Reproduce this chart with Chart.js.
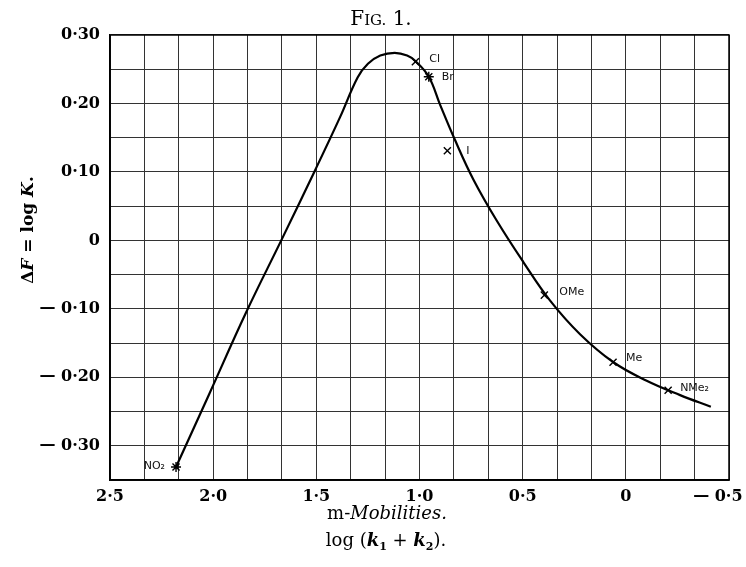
<!DOCTYPE html>
<html>
<head>
<meta charset="utf-8">
<script src="https://cdn.jsdelivr.net/npm/chart.js@4"></script>
<style>body{margin:0;background:#fff}canvas{display:block}</style>
</head>
<body>
<canvas id="fig" width="746" height="567"></canvas>
<script>
// curve, left to right (the x axis runs backwards)
const curveX = [2.18, 2.02, 1.84, 1.67, 1.51, 1.385, 1.30, 1.25, 1.19, 1.12, 1.06, 1.02, 0.955, 0.90, 0.83, 0.739, 0.626, 0.496, 0.367, 0.222, 0.060, -0.101, -0.263, -0.412];
const curveY = [-0.331, -0.225, -0.105, 0.0, 0.10, 0.180, 0.238, 0.258, 0.270, 0.274, 0.270, 0.262, 0.239, 0.198, 0.148, 0.089, 0.029, -0.032, -0.088, -0.137, -0.178, -0.205, -0.226, -0.243];

// the marked substituents
const markNames = ['NO₂', 'Cl', 'Br', 'I', 'OMe', 'Me', 'NMe₂'];
const markX = [2.18, 1.02, 0.955, 0.865, 0.395, 0.062, -0.205];
const markY = [-0.331, 0.261, 0.239, 0.131, -0.080, -0.178, -0.219];

const xTickValues = [2.5, 2.0, 1.5, 1.0, 0.5, 0, -0.5];
const xTickLabels = ['2·5', '2·0', '1·5', '1·0', '0·5', '0', '— 0·5    '];
const yTickValues = [0.3, 0.2, 0.1, 0, -0.1, -0.2, -0.3];
const yTickLabels = ['0·30', '0·20', '0·10', '0', '— 0·10', '— 0·20', '— 0·30'];

// look of the marks and where their names sit (px from the mark)
const markStyles = ['star', 'crossRot', 'star', 'crossRot', 'crossRot', 'crossRot', 'crossRot'];
const labelShift = [[-11, -1, 'right'], [14, -3, 'left'], [13, 0, 'left'], [19, 0, 'left'], [15, -3, 'left'], [13, -4, 'left'], [12, -2, 'left']];

const SERIF = '"DejaVu Serif", serif';

function pickLabel(values, labels, v) {
  const i = values.findIndex(t => Math.abs(t - v) < 1e-6);
  return i < 0 ? '' : labels[i];
}

// draw a line of text made of several font runs, centred on cx
function drawRuns(ctx, runs, cx, y) {
  let w = 0;
  runs.forEach(r => { ctx.font = r.f; w += ctx.measureText(r.t).width; });
  let x = cx - w / 2;
  ctx.textAlign = 'left';
  ctx.textBaseline = 'alphabetic';
  runs.forEach(r => {
    ctx.font = r.f;
    ctx.fillText(r.t, x, y + (r.dy || 0));
    x += ctx.measureText(r.t).width;
  });
}

const extras = {
  id: 'extras',
  afterDatasetsDraw(chart) {
    const ctx = chart.ctx;
    const meta = chart.getDatasetMeta(1);
    ctx.save();
    ctx.fillStyle = '#111';
    ctx.font = '11px "DejaVu Sans", sans-serif';
    ctx.textBaseline = 'middle';
    meta.data.forEach((pt, i) => {
      const s = labelShift[i];
      ctx.textAlign = s[2];
      ctx.fillText(markNames[i], pt.x + s[0], pt.y + s[1]);
    });
    ctx.restore();
  },
  afterDraw(chart) {
    const ctx = chart.ctx;
    const a = chart.chartArea;
    ctx.save();
    ctx.strokeStyle = '#000';
    ctx.lineWidth = 1.5;
    ctx.strokeRect(a.left, a.top, a.right - a.left, a.bottom - a.top);

    ctx.fillStyle = '#000';
    drawRuns(ctx, [
      {t: 'F', f: '20px ' + SERIF},
      {t: 'IG.', f: '15px ' + SERIF},
      {t: ' 1.', f: '20px ' + SERIF}
    ], 381, 25);

    drawRuns(ctx, [
      {t: 'm-', f: '18px ' + SERIF},
      {t: 'Mobilities.', f: 'italic 18px ' + SERIF}
    ], 387, 519);

    drawRuns(ctx, [
      {t: 'log (', f: '18px ' + SERIF},
      {t: 'k', f: 'bold italic 18px ' + SERIF},
      {t: '1', f: 'bold 11px ' + SERIF, dy: 4},
      {t: ' + ', f: '18px ' + SERIF},
      {t: 'k', f: 'bold italic 18px ' + SERIF},
      {t: '2', f: 'bold 11px ' + SERIF, dy: 4},
      {t: ').', f: '18px ' + SERIF}
    ], 386, 546);

    ctx.translate(33, 230);
    ctx.rotate(-Math.PI / 2);
    drawRuns(ctx, [
      {t: 'Δ', f: 'bold 17px ' + SERIF},
      {t: 'F', f: 'bold italic 17px ' + SERIF},
      {t: ' = log ', f: 'bold 17px ' + SERIF},
      {t: 'K', f: 'bold italic 17px ' + SERIF},
      {t: '.', f: 'bold 17px ' + SERIF}
    ], 0, 0);
    ctx.restore();
  }
};

new Chart(document.getElementById('fig'), {
  type: 'scatter',
  data: {
    datasets: [
      {
        type: 'line',
        label: 'curve',
        data: curveX.map((x, i) => ({x: x, y: curveY[i]})),
        borderColor: '#000',
        borderWidth: 2.2,
        pointRadius: 0,
        fill: false,
        tension: 0.4
      },
      {
        label: 'substituents',
        data: markX.map((x, i) => ({x: x, y: markY[i]})),
        pointStyle: markStyles,
        pointRadius: 5,
        borderColor: '#000',
        backgroundColor: '#000',
        pointBorderWidth: 1.4
      }
    ]
  },
  options: {
    responsive: false,
    animation: false,
    layout: {padding: {top: 35, right: 17, left: 0, bottom: 0}},
    plugins: {legend: {display: false}, tooltip: {enabled: false}},
    scales: {
      x: {
        type: 'linear',
        reverse: true,
        min: -0.5,
        max: 2.5,
        afterBuildTicks: scale => {
          const t = [];
          for (let i = 0; i <= 18; i++) t.push({value: -0.5 + i / 6});
          scale.ticks = t;
        },
        afterFit: scale => {
          scale.height = 87;
          scale.paddingLeft = 0;
          scale.paddingRight = 0;
        },
        grid: {color: '#333', lineWidth: 1, drawTicks: false},
        border: {color: '#000', width: 1.5},
        ticks: {
          autoSkip: false,
          maxRotation: 0,
          padding: 7,
          color: '#000',
          font: {family: SERIF, weight: 'bold', size: 16},
          callback: v => pickLabel(xTickValues, xTickLabels, v)
        }
      },
      y: {
        min: -0.35,
        max: 0.30,
        afterBuildTicks: scale => {
          const t = [];
          for (let i = 0; i <= 13; i++) t.push({value: -0.35 + i * 0.05});
          scale.ticks = t;
        },
        afterFit: scale => { scale.width = 110; },
        grid: {color: '#333', lineWidth: 1, drawTicks: false},
        border: {color: '#000', width: 1.5},
        ticks: {
          autoSkip: false,
          padding: 10,
          color: '#000',
          font: {family: SERIF, weight: 'bold', size: 16},
          callback: v => pickLabel(yTickValues, yTickLabels, v)
        }
      }
    }
  },
  plugins: [extras]
});
</script>
</body>
</html>
